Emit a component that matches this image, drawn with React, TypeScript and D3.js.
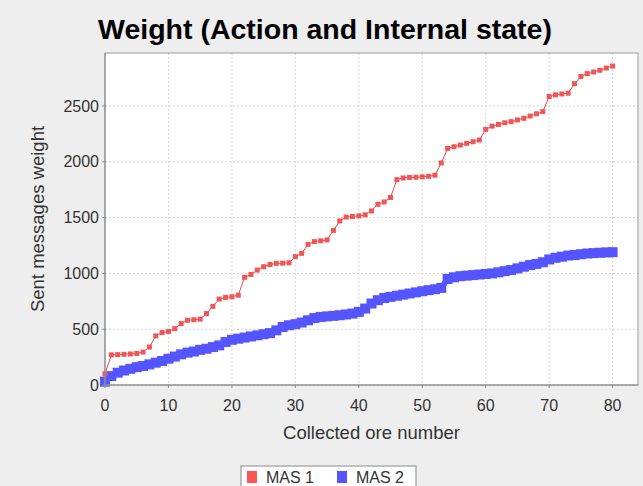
import * as d3 from "d3";
import React from "react";

const xValues = d3.range(0, 81);

const mas1 = [
  100, 270, 272, 275, 278, 283, 295, 340, 440, 470,
  480, 505, 550, 580, 585, 590, 640, 705, 770, 785,
  790, 805, 965, 990, 1030, 1060, 1080, 1090, 1092, 1095,
  1150, 1180, 1260, 1285, 1292, 1300, 1385, 1470, 1505, 1510,
  1515, 1525, 1560, 1620, 1640, 1680, 1840, 1855, 1860, 1862,
  1865, 1870, 1880, 1990, 2120, 2135, 2150, 2165, 2180, 2195,
  2290, 2320, 2335, 2350, 2360, 2375, 2390, 2410, 2430, 2450,
  2585, 2600, 2608, 2615, 2700, 2765, 2790, 2805, 2820, 2840,
  2858,
];

const mas2 = [
  30, 80, 110, 130, 145, 160, 170, 185, 200, 215,
  235, 255, 275, 290, 300, 315, 325, 340, 355, 385,
  405, 415, 425, 435, 445, 455, 465, 490, 520, 535,
  545, 560, 580, 600, 610, 615, 620, 625, 632, 640,
  655, 685, 730, 760, 780, 790, 800, 810, 820, 830,
  840, 850, 858, 870, 950, 965, 975, 980, 985, 990,
  995, 1000, 1010, 1020, 1030, 1045, 1060, 1075, 1085, 1100,
  1125, 1140, 1150, 1160, 1165, 1172, 1178, 1182, 1185, 1188,
  1190,
];

const xTicks = [0, 10, 20, 30, 40, 50, 60, 70, 80];
const yTicks = [0, 500, 1000, 1500, 2000, 2500];
const seriesNames = ["MAS 1", "MAS 2"];

const W = 643;
const H = 486;
const plot = { left: 105, top: 53, right: 638, bottom: 385 };
const font = "'Liberation Sans', Arial, sans-serif";

const App = () => {
  const x = d3.scaleLinear().domain([0, 84]).range([plot.left, plot.right]);
  const y = d3.scaleLinear().domain([0, 2975]).range([plot.bottom, plot.top]);

  const line = d3
    .line<number>()
    .x((_, i) => x(xValues[i]))
    .y((d) => y(d));

  return (
    <svg
      width={W}
      height={H}
      style={{ position: "absolute", left: 0, top: 0, display: "block" }}
      fontFamily={font}
    >
      <rect width={W} height={H} fill="#eeeeee" />
      <text
        x={325}
        y={39}
        textAnchor="middle"
        fontSize={28.5}
        fontWeight="bold"
        fill="#000"
      >
        Weight (Action and Internal state)
      </text>

      <rect
        x={plot.left}
        y={plot.top}
        width={plot.right - plot.left}
        height={plot.bottom - plot.top}
        fill="#ffffff"
      />

      {/* grid */}
      {xTicks.map((t) => (
        <line
          key={"gx" + t}
          x1={x(t)}
          x2={x(t)}
          y1={plot.top}
          y2={plot.bottom}
          stroke="#d4d4d4"
          strokeDasharray="2,2"
        />
      ))}
      {yTicks.map((t) => (
        <line
          key={"gy" + t}
          x1={plot.left}
          x2={plot.right}
          y1={y(t)}
          y2={y(t)}
          stroke="#d4d4d4"
          strokeDasharray="2,2"
        />
      ))}

      {/* MAS 2 */}
      <path
        d={line(mas2) || ""}
        fill="none"
        stroke="#5555ff"
        strokeWidth={6}
      />
      {mas2.map((v, i) => (
        <rect
          key={"b" + i}
          x={x(xValues[i]) - 5}
          y={y(v) - 5}
          width={10}
          height={10}
          fill="#5555ff"
        />
      ))}

      {/* MAS 1 */}
      <path
        d={line(mas1) || ""}
        fill="none"
        stroke="#d05050"
        strokeWidth={1}
      />
      {mas1.map((v, i) => (
        <rect
          key={"r" + i}
          x={x(xValues[i]) - 2.5}
          y={y(v) - 2.5}
          width={5}
          height={5}
          fill="#f25555"
        />
      ))}

      <rect
        x={plot.left}
        y={plot.top}
        width={plot.right - plot.left}
        height={plot.bottom - plot.top}
        fill="none"
        stroke="#999999"
      />

      {/* axes */}
      <line
        x1={plot.left}
        x2={plot.right}
        y1={plot.bottom}
        y2={plot.bottom}
        stroke="#888"
      />
      <line
        x1={plot.left}
        x2={plot.left}
        y1={plot.top}
        y2={plot.bottom}
        stroke="#888"
      />
      {xTicks.map((t) => (
        <g key={"xt" + t}>
          <line
            x1={x(t)}
            x2={x(t)}
            y1={plot.bottom}
            y2={plot.bottom + 3}
            stroke="#888"
          />
          <text
            x={x(t)}
            y={411}
            textAnchor="middle"
            fontSize={16}
            fill="#333"
          >
            {t}
          </text>
        </g>
      ))}
      {yTicks.map((t) => (
        <g key={"yt" + t}>
          <line
            x1={plot.left - 3}
            x2={plot.left}
            y1={y(t)}
            y2={y(t)}
            stroke="#888"
          />
          <text
            x={plot.left - 6}
            y={y(t) + 5.5}
            textAnchor="end"
            fontSize={16}
            fill="#333"
          >
            {t}
          </text>
        </g>
      ))}

      <text
        x={(plot.left + plot.right) / 2}
        y={439}
        textAnchor="middle"
        fontSize={18.5}
        fill="#333"
      >
        Collected ore number
      </text>
      <text
        transform={`translate(44,${(plot.top + plot.bottom) / 2}) rotate(-90)`}
        textAnchor="middle"
        fontSize={18.5}
        fill="#333"
      >
        Sent messages weight
      </text>

      {/* legend */}
      <rect
        x={241}
        y={466}
        width={175}
        height={30}
        fill="#ffffff"
        stroke="#888"
      />
      <rect x={247} y={471} width={10} height={12} fill="#ff5555" />
      <text x={266} y={483} fontSize={16} fill="#333">
        {seriesNames[0]}
      </text>
      <rect x={337} y={471} width={10} height={12} fill="#5555ff" />
      <text x={356} y={483} fontSize={16} fill="#333">
        {seriesNames[1]}
      </text>
    </svg>
  );
};

export default App;
